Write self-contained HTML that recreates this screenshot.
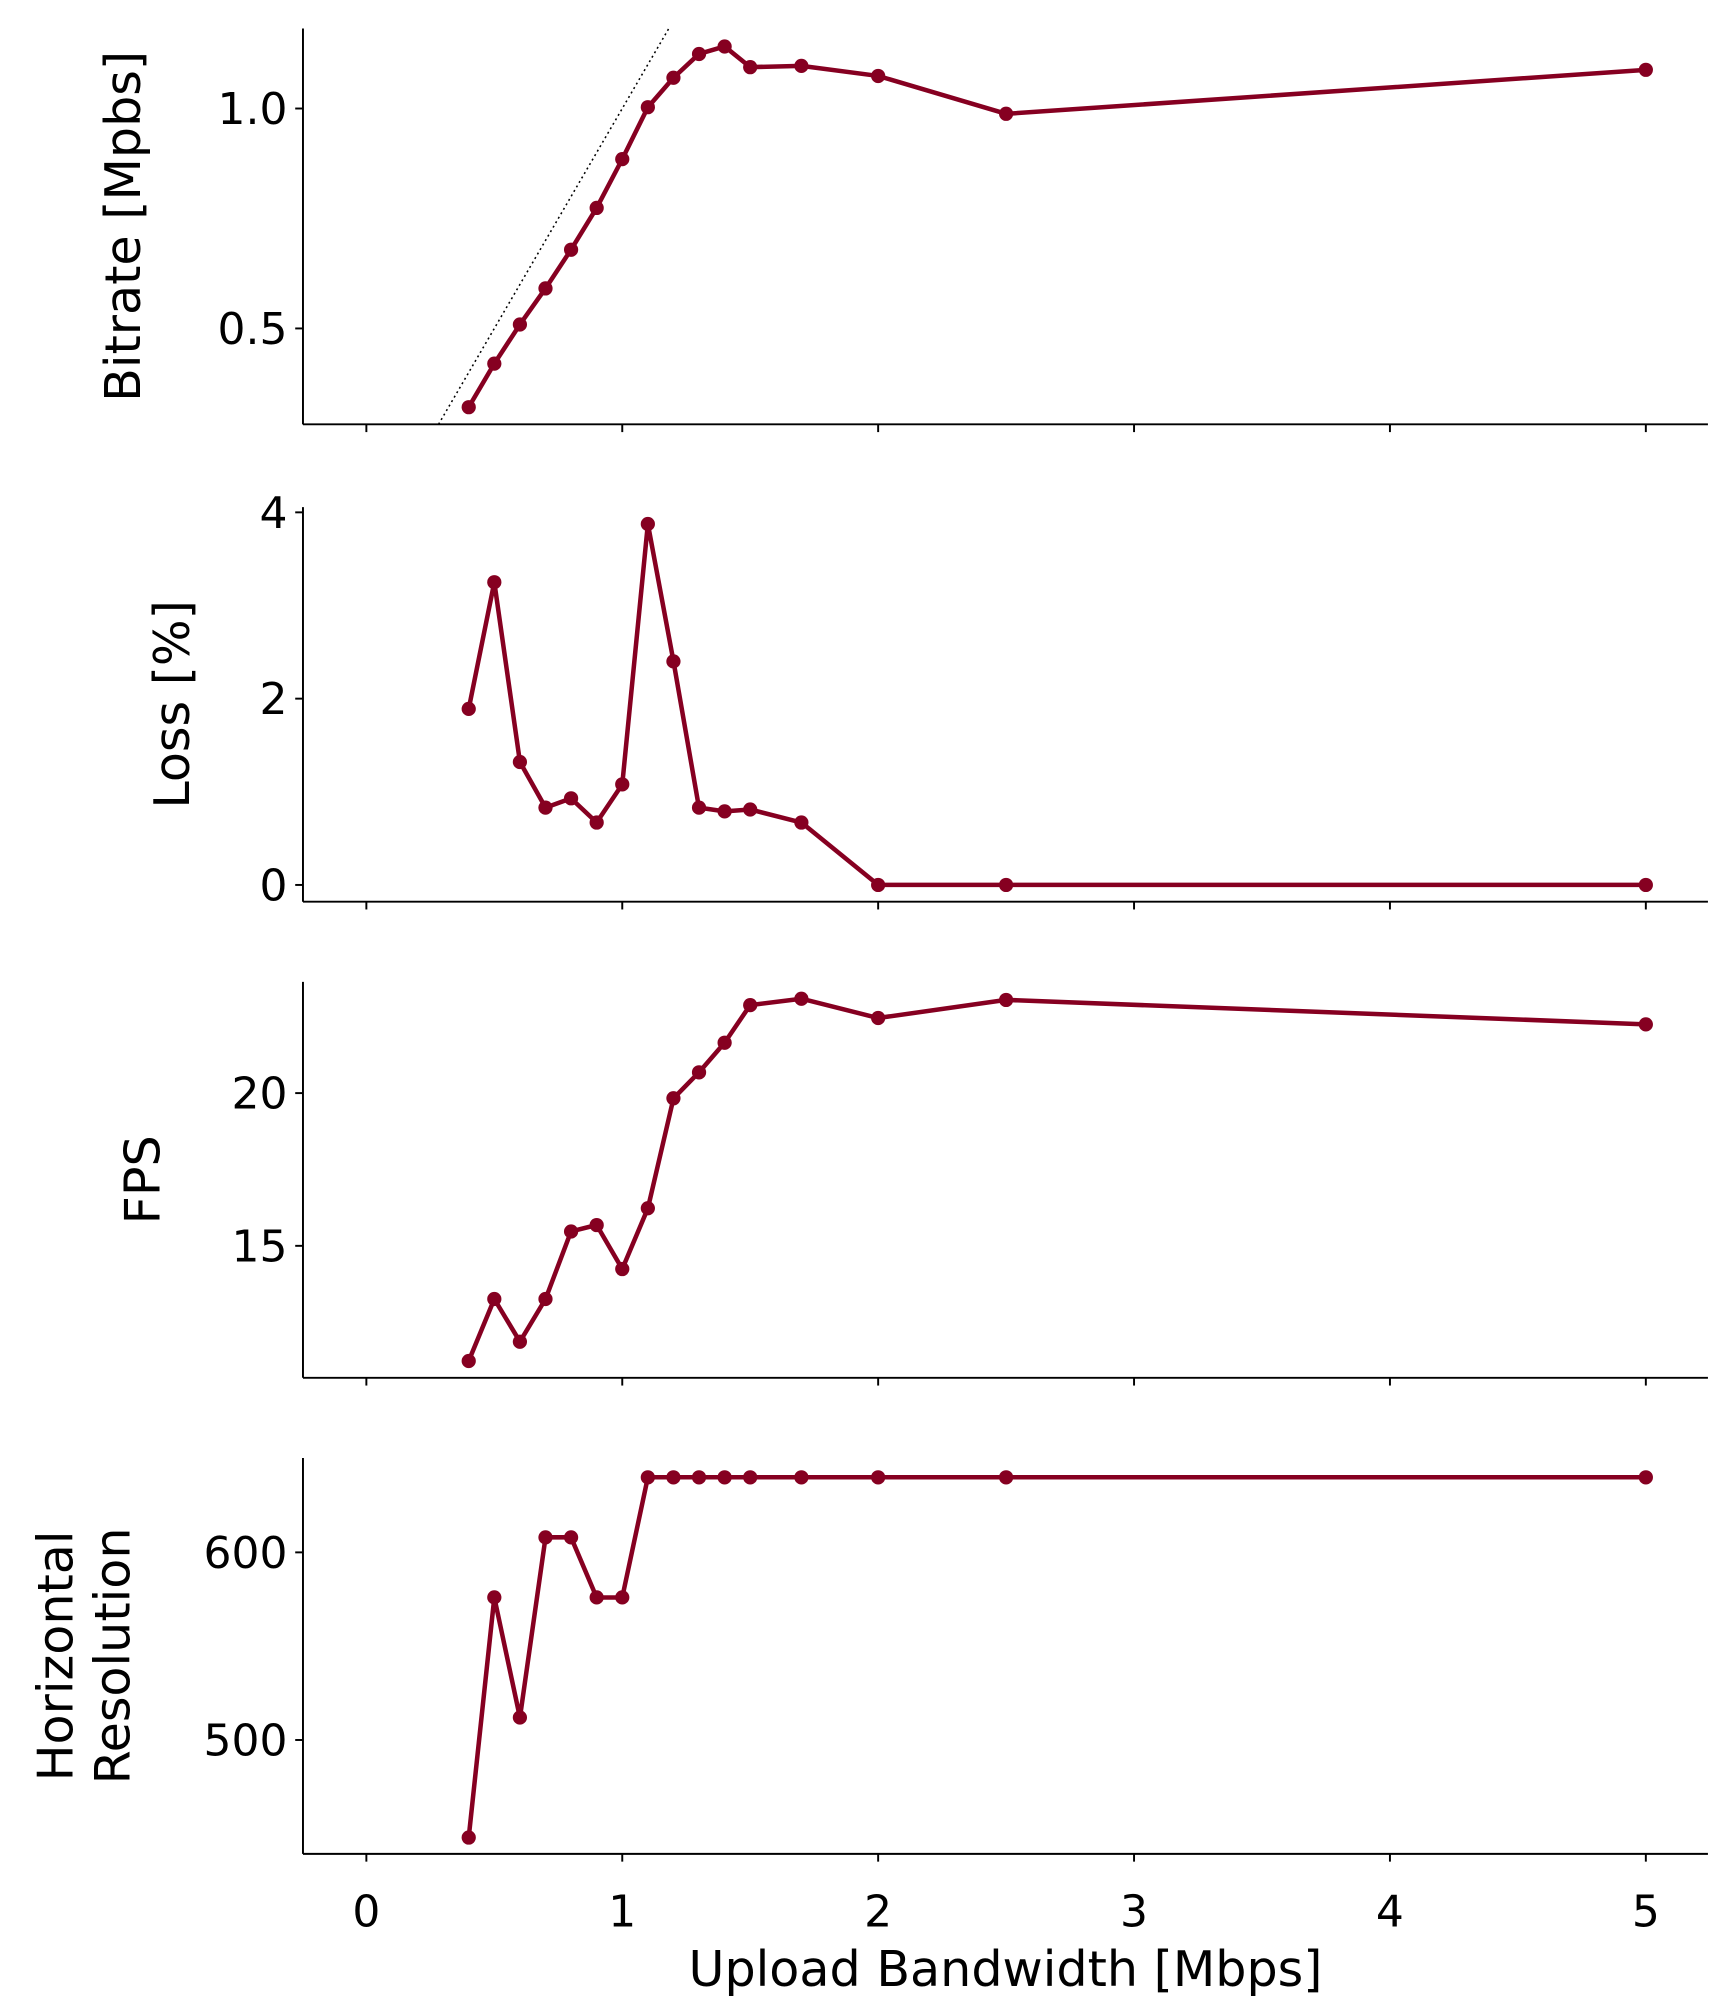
<!DOCTYPE html>
<html><head><meta charset="utf-8"><style>
html,body{margin:0;padding:0;background:#fff}
svg{display:block}
text{font-family:"DejaVu Sans","Liberation Sans",sans-serif;fill:#000}
</style></head><body>
<svg id="chart" width="1725" height="2013" viewBox="0 0 1333 1556" xmlns="http://www.w3.org/2000/svg"></svg>
<script>
const xValues = [0.4,0.5,0.6,0.7,0.8,0.9,1.0,1.1,1.2,1.3,1.4,1.5,1.7,2.0,2.5,5.0];
const bitrate = [0.321,0.42,0.509,0.591,0.679,0.774,0.885,1.003,1.07,1.124,1.141,1.094,1.097,1.074,0.988,1.088];
const loss = [1.89,3.25,1.32,0.83,0.93,0.67,1.08,3.875,2.4,0.83,0.79,0.81,0.67,0,0,0];
const fps = [11.23,13.26,11.86,13.26,15.47,15.68,14.24,16.23,19.83,20.68,21.65,22.88,23.09,22.46,23.05,22.25];
const resolution = [448,576,512,608,608,576,576,640,640,640,640,640,640,640,640,640];
const xTicks = [0,1,2,3,4,5];
const bitrateTicks = [0.5,1.0];
const lossTicks = [0,2,4];
const fpsTicks = [15,20];
const resTicks = [500,600];

const NS="http://www.w3.org/2000/svg";
const svg=document.getElementById('chart');
const L=234,R=1320;
const xs=v=>283+(v-0)*(1272-283)/5;
const color="#860021";
function mk(tag,attrs,parent){const e=document.createElementNS(NS,tag);for(const k in attrs)e.setAttribute(k,attrs[k]);(parent||svg).appendChild(e);return e;}

const panels=[
 {name:'bitrate',top:22,bot:328,lo:0.282,hi:1.182,data:bitrate,ticks:bitrateTicks,fmt:v=>v.toFixed(1),label:['Bitrate [Mpbs]'],lx:95},
 {name:'loss',top:392,bot:697,lo:-0.18,hi:4.056,data:loss,ticks:lossTicks,fmt:v=>String(v),label:['Loss [%]'],lx:133},
 {name:'fps',top:759,bot:1065,lo:10.68,hi:23.64,data:fps,ticks:fpsTicks,fmt:v=>String(v),label:['FPS'],lx:110},
 {name:'resolution',top:1127,bot:1433,lo:439.3,hi:650.3,data:resolution,ticks:resTicks,fmt:v=>String(v),label:['Horizontal','Resolution'],lx:65}
];
panels.forEach((p,pi)=>{
 const g=mk('g',{});
 
 
 const ys=v=>p.bot-(v-p.lo)*(p.bot-p.top)/(p.hi-p.lo);
 const cid='clip'+pi;
 const cp=mk('clipPath',{id:cid},g);mk('rect',{x:L,y:p.top,width:R-L,height:p.bot-p.top},cp);
 if(p.name==='bitrate'){
  const ref=mk('line',{x1:xs(0.282),y1:ys(0.282),x2:xs(1.182),y2:ys(1.182),stroke:'#000','stroke-width':1.2,'stroke-dasharray':'1.5,2.5','clip-path':`url(#${cid})`},g);
  
  
 }
 const pts=xValues.map((x,i)=>xs(x).toFixed(1)+','+ys(p.data[i]).toFixed(1)).join(' ');
 const pl=mk('polyline',{points:pts,fill:'none',stroke:color,'stroke-width':3.5,'stroke-linejoin':'round'},g);
 
 
 xValues.forEach((x,i)=>{
  const c=mk('circle',{cx:xs(x),cy:ys(p.data[i]),r:5.5,fill:color},g);
  
  
 });
 const yax=mk('line',{x1:L,y1:p.top,x2:L,y2:p.bot,stroke:'#000','stroke-width':1.5},g);
 
 
 const xax=mk('line',{x1:L,y1:p.bot,x2:R,y2:p.bot,stroke:'#000','stroke-width':1.5},g);
 
 
 p.ticks.forEach(t=>{
  const y=ys(t);
  mk('line',{x1:L-6,y1:y,x2:L,y2:y,stroke:'#000','stroke-width':1.5},g);
  const tx=mk('text',{x:L-12,y:y+12,'font-size':34,'text-anchor':'end'},g);
  tx.textContent=p.fmt(t);
  
  
 });
 xTicks.forEach(t=>{mk('line',{x1:xs(t),y1:p.bot,x2:xs(t),y2:p.bot+6,stroke:'#000','stroke-width':1.5},g);});
 const cy=(p.top+p.bot)/2;
 p.label.forEach((s,li)=>{
  const x=p.lx+(li-(p.label.length-1)/2)*44;
  const t=mk('text',{x:x,y:cy,'font-size':38,'text-anchor':'middle',transform:`rotate(-90 ${x} ${cy})`,dy:13},g);
  t.textContent=s;
  
  
 });
});
xTicks.forEach(t=>{
 const tx=mk('text',{x:xs(t),y:1489,'font-size':34,'text-anchor':'middle'});
 tx.textContent=String(t);
 
 
});
const xt=mk('text',{x:777,y:1535,'font-size':38,'text-anchor':'middle'});
xt.textContent='Upload Bandwidth [Mbps]';


</script>
</body></html>
